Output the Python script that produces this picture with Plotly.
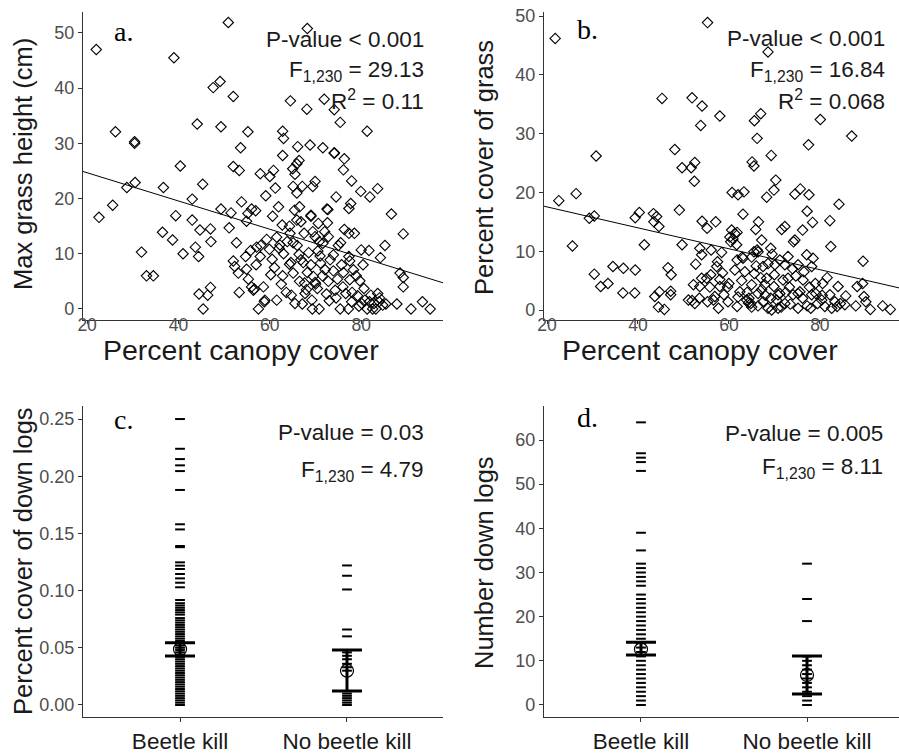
import plotly.graph_objects as go

# ---------------- data ----------------
a_x = [50.9,22.0,68.2,39.0,47.6,49.1,52.0,64.5,68.1,71.9,74.1,75.4,44.1,49.3,26.2,55.2,62.8,81.3,30.4,30.4,63.0,53.6,66.1,68.8,71.6,74.1,74.1,62.8,76.3,40.4,66.4,65.9,65.0,52.0,53.3,60.8,76.1,57.9,60.0,65.5,30.5,45.3,28.7,36.7,61.2,65.1,67.1,69.4,69.9,77.9,79.9,81.9,83.6,65.9,59.1,74.5,43.0,25.6,53.8,22.6,39.4,49.3,51.5,56.0,56.9,60.6,61.9,65.4,66.5,69.0,72.5,72.7,77.3,77.7,86.6,54.9,55.2,69.0,62.7,64.3,70.6,72.6,65.9,66.8,43.0,47.0,44.7,36.5,38.7,51.1,47.1,52.7,76.3,77.3,78.5,89.2,57.1,59.3,61.5,62.2,63.8,65.1,64.4,67.5,69.4,69.9,70.8,71.6,72.8,75.0,85.2,31.9,41.0,43.7,44.4,54.7,55.8,57.9,59.9,66.4,71.0,73.9,80.0,81.7,84.2,80.4,77.5,88.5,89.2,89.2,33.0,34.5,44.5,46.4,47.0,45.4,52.0,52.3,53.1,53.3,54.9,55.3,56.4,56.6,57.5,58.8,58.9,58.6,60.2,61.5,62.8,63.6,64.3,64.6,64.7,65.1,66.8,67.3,67.1,67.6,67.7,68.2,69.2,69.3,69.5,69.9,70.4,70.8,71.1,72.1,72.4,72.8,73.2,74.3,74.8,75.4,75.7,76.1,76.6,77.2,77.3,77.5,77.9,78.9,79.2,79.7,80.1,80.6,80.8,81.3,81.8,82.1,82.5,82.8,83.2,83.6,83.9,84.7,85.4,87.8,90.9,93.4,95.1,73.9,78.3,62.0,63.0,66.0,68.5,70.0,71.5,73.0,74.5,76.0,78.0,79.5,60.5,56.0,57.0,62.5,65.5,68.0,70.5,72.0,75.5,58.0,61.0,66.5,69.0,84.0]
a_y = [51.9,47.0,50.8,45.5,40.1,41.2,38.5,37.7,36.2,38.0,36.1,33.8,33.5,33.0,32.1,32.1,32.2,32.2,30.3,30.0,30.9,29.2,29.4,29.7,29.2,28.3,28.2,27.8,27.2,25.9,26.9,26.3,25.4,25.8,25.1,25.1,25.2,24.5,24.0,24.4,22.9,22.6,22.0,22.0,21.9,22.2,22.2,22.2,23.1,23.2,21.3,20.3,21.8,21.0,20.5,20.3,19.9,18.8,19.4,16.6,16.9,18.1,17.4,18.1,17.8,16.8,18.5,17.9,18.5,16.8,18.1,18.0,18.2,19.1,17.2,15.9,17.3,17.0,15.2,15.0,15.5,15.6,16.1,15.8,16.1,14.5,14.3,13.9,12.5,14.7,12.2,12.0,14.4,13.7,13.7,13.6,11.2,12.6,13.0,11.6,12.2,12.0,13.7,13.7,14.0,13.1,12.2,11.9,13.1,11.5,11.5,10.3,10.0,11.2,9.5,9.5,10.6,9.5,10.8,9.9,9.6,9.8,10.7,10.6,9.3,8.0,8.7,6.5,5.7,4.0,6.0,6.0,2.7,2.5,3.9,0.0,8.7,7.7,6.5,3.0,7.2,5.4,3.4,3.6,0.0,1.3,1.6,4.0,6.2,1.6,6.0,3.0,8.1,8.4,2.5,6.5,8.9,8.4,0.9,4.7,2.8,6.6,1.6,0.0,5.9,4.8,3.7,0.0,8.3,7.1,2.7,5.0,8.9,3.4,5.4,0.0,8.0,6.6,2.8,0.0,9.5,5.3,1.3,6.0,2.4,5.1,1.0,3.7,1.6,0.0,1.3,2.5,0.0,1.0,0.0,2.8,1.3,0.7,0.9,0.9,0.0,1.3,0.0,6.9,7.1,11.0,10.0,11.5,10.2,4.5,6.0,1.5,2.0,4.0,3.0,0.5,9.0,4.0,8.0,4.5,1.0,3.5,10.5,14.0,12.0,11.5,7.5,5.0,8.0,2.0]

b_x = [21.8,55.3,68.6,45.3,51.9,54.1,53.8,58.0,65.6,67.0,66.2,80.1,87.0,77.5,30.8,48.1,69.3,65.1,65.5,49.7,51.7,52.5,52.4,70.3,26.4,22.6,60.7,62.0,63.3,68.3,69.9,74.5,75.7,77.6,84.2,49.1,63.1,77.2,40.3,39.4,43.4,43.5,44.1,44.6,30.4,29.3,54.1,55.2,57.1,66.5,65.9,82.2,78.4,76.2,71.6,72.3,74.5,74.2,61.8,60.2,60.9,67.2,41.4,25.6,49.7,53.6,54.0,56.1,58.4,60.4,61.7,65.5,66.4,69.2,82.4,89.5,68.6,70.1,71.2,73.0,77.1,78.5,78.2,75.2,30.4,31.8,33.4,34.5,36.7,36.8,39.3,39.4,43.7,44.7,44.5,45.8,46.6,47.3,47.2,47.2,51.1,51.9,52.5,52.7,53.6,54.0,55.1,55.3,55.8,56.9,57.7,58.0,58.9,58.6,59.7,59.8,61.3,61.8,62.4,62.8,63.9,64.3,64.8,65.0,65.6,66.4,67.2,67.5,67.9,68.6,69.2,69.4,69.9,70.5,70.8,71.2,71.9,72.3,73.3,74.1,74.7,75.2,75.6,76.2,76.3,77.2,77.7,78.2,79.1,79.5,80.4,80.6,81.1,81.6,82.2,82.6,83.3,83.8,84.0,84.5,85.5,85.7,87.9,88.2,89.4,89.7,90.1,91.1,93.8,95.5,61.8,63.1,65.0,66.2,67.5,68.3,72.3,73.0,75.2,57.5,60.6,61.3,62.9,57.3,52.2,53.5,56.6,64.4,66.4,70.8,63.5,64.0,66.0,68.0,70.0,71.5,73.5,74.0,76.5,78.0,79.0,80.5,60.0,62.0,65.0,67.0,69.5,72.5,56.0,58.0]
b_y = [46.2,48.9,43.9,36.0,36.1,34.7,31.4,33.0,32.2,33.4,29.2,32.4,29.6,28.1,26.2,27.3,26.3,25.2,24.5,24.2,24.2,25.1,21.9,22.1,19.8,18.6,20.0,19.6,20.1,19.2,20.4,19.7,20.6,19.6,18.0,17.0,16.3,16.8,16.6,15.7,16.4,15.0,15.9,14.2,16.0,15.6,15.1,13.9,15.0,15.0,13.7,15.2,14.9,13.6,13.7,14.2,11.9,11.6,13.2,12.4,12.1,11.9,11.1,10.9,11.1,10.5,9.4,10.2,9.8,11.6,11.1,9.9,9.9,10.5,10.8,8.3,7.9,7.7,8.5,9.1,9.4,8.8,7.4,7.7,6.1,4.0,4.5,7.4,2.9,7.1,2.9,6.8,2.3,3.1,0.5,0.1,7.2,6.0,3.2,2.6,1.7,1.6,1.1,7.8,4.0,5.4,5.4,1.4,3.9,2.3,0.3,5.2,2.6,6.3,3.9,1.4,6.8,0.6,3.1,5.0,1.7,1.2,1.1,4.3,6.2,2.8,3.5,1.4,4.3,0.3,2.0,0.0,4.0,1.7,0.3,2.8,5.1,1.1,3.9,2.6,5.8,0.3,3.1,2.0,5.1,0.7,3.9,2.6,2.8,1.1,1.7,4.5,0.6,5.5,2.6,0.3,1.4,0.6,4.0,1.1,0.9,2.4,0.7,4.0,4.5,2.3,1.4,0.1,0.7,0.1,8.5,8.8,9.0,10.2,7.4,5.4,7.7,5.4,2.8,8.2,13.6,13.0,9.0,7.4,4.3,2.0,1.7,2.0,0.7,2.6,6.5,3.0,7.5,2.5,6.0,0.5,1.0,7.0,6.5,0.3,4.5,2.5,4.5,2.2,0.5,5.5,9.5,3.0,6.0,4.0]

# fitted regression lines (intercept, slope)
fit_a = (29.8, -0.256)
fit_b = (21.1, -0.178)

groups = ["Beetle kill", "No beetle kill"]
c_beetle = [0.250,0.224,0.215,0.2095,0.2045,0.188,0.158,0.1535,0.139,0.138,0.1247,0.1218,0.1189,0.1145,0.1107,0.1069,0.1029,0.0918,0.089,0.087,0.085,0.083,0.081,0.079,0.076,0.074,0.072,0.070,0.068,0.066,0.064,0.062,0.060,0.058,0.056,0.054,0.052,0.050,0.048,0.046,0.044,0.042,0.040,0.038,0.036,0.034,0.032,0.030,0.028,0.026,0.024,0.022,0.020,0.018,0.016,0.014,0.012,0.010,0.008,0.006,0.004,0.002,0.000]
c_nobeetle = [0.122,0.113,0.101,0.066,0.060,0.046,0.043,0.040,0.036,0.033,0.030,0.010,0.008,0.006,0.004,0.002,0.000]
c_mean = [0.0487, 0.030]
c_upper = [0.0545, 0.048]
c_lower = [0.0428, 0.0122]

d_beetle = [64,57,56,55,53,39,35,32,31,30,29,28,27,25,24,23,22,21,20,19,18,17,16,15,14,13,12,11,10,9,8,7,6,5,4,3,2,1,0]
d_nobeetle = [32,24,19,11,10,9,8,7,6,5,4,3,2,1,0]
d_mean = [12.6, 6.8]
d_upper = [14.2, 11.1]
d_lower = [11.3, 2.5]

# ---------------- layout helpers ----------------
W, H = 899, 753
def fx(px): return px / W
def fy(py): return 1 - py / H

SANS = "Liberation Sans, Arial, sans-serif"
SERIF = "Liberation Serif, Times New Roman, serif"
TXT = "#1a1a1a"
TICK = "#4d4d4d"

fig = go.Figure()

scatter_marker = dict(symbol="diamond-open", size=8, color="black", line=dict(width=1.1))

# panel a
fig.add_trace(go.Scatter(x=a_x, y=a_y, mode="markers", marker=scatter_marker,
                         xaxis="x", yaxis="y", showlegend=False, hoverinfo="skip"))
xr_a = [19.1, 97.9]
fig.add_trace(go.Scatter(x=xr_a, y=[fit_a[0] + fit_a[1] * v for v in xr_a], mode="lines",
                         line=dict(color="black", width=1), xaxis="x", yaxis="y",
                         showlegend=False, hoverinfo="skip"))
# panel b
fig.add_trace(go.Scatter(x=b_x, y=b_y, mode="markers", marker=scatter_marker,
                         xaxis="x2", yaxis="y2", showlegend=False, hoverinfo="skip"))
xr_b = [19.34, 97.4]
fig.add_trace(go.Scatter(x=xr_b, y=[fit_b[0] + fit_b[1] * v for v in xr_b], mode="lines",
                         line=dict(color="black", width=1), xaxis="x2", yaxis="y2",
                         showlegend=False, hoverinfo="skip"))

dash_marker = dict(symbol="line-ew-open", size=7, color="black", line=dict(width=2, color="black"))

def group_panel(xa, ya, beetle, nobeetle, mean, upper, lower):
    fig.add_trace(go.Scatter(x=[groups[0]] * len(beetle), y=beetle, mode="markers",
                             marker=dash_marker, xaxis=xa, yaxis=ya, showlegend=False, hoverinfo="skip"))
    fig.add_trace(go.Scatter(x=[groups[1]] * len(nobeetle), y=nobeetle, mode="markers",
                             marker=dash_marker, xaxis=xa, yaxis=ya, showlegend=False, hoverinfo="skip"))
    fig.add_trace(go.Scatter(
        x=groups, y=mean, mode="markers",
        marker=dict(symbol="circle-open", size=13, color="black", line=dict(width=1.2)),
        error_y=dict(type="data", symmetric=False,
                     array=[u - m for u, m in zip(upper, mean)],
                     arrayminus=[m - l for m, l in zip(mean, lower)],
                     color="black", thickness=3, width=15),
        xaxis=xa, yaxis=ya, showlegend=False, hoverinfo="skip"))

group_panel("x3", "y3", c_beetle, c_nobeetle, c_mean, c_upper, c_lower)
group_panel("x4", "y4", d_beetle, d_nobeetle, d_mean, d_upper, d_lower)

axis_common = dict(showline=True, linecolor="#333333", linewidth=1.3, ticks="outside",
                   ticklen=4, tickwidth=1.2, tickcolor="#333333", showgrid=False, zeroline=False,
                   automargin=False,
                   tickfont=dict(family=SANS, size=18, color=TICK))

top_dom = [fy(320), fy(12)]
bot_dom = [fy(717), fy(406)]
left_dom = [fx(83), fx(443)]
right_dom = [fx(544), 1.0]

xtick_top = dict(tickvals=[20, 40, 60, 80], ticklen=3, ticklabelstandoff=-14,
                 tickfont=dict(family=SANS, size=17.5, color=TICK))

fig.update_layout(
    template="none",
    width=W, height=H, margin=dict(l=0, r=0, t=0, b=0, pad=0, autoexpand=False),
    paper_bgcolor="white", plot_bgcolor="white", showlegend=False,
    xaxis=dict(axis_common, domain=left_dom, anchor="y", range=xr_a, **xtick_top),
    yaxis=dict(axis_common, domain=top_dom, anchor="x", range=[-2.0, 53.8], tickvals=[0, 10, 20, 30, 40, 50]),
    xaxis2=dict(axis_common, domain=right_dom, anchor="y2", range=xr_b, **xtick_top),
    yaxis2=dict(axis_common, domain=top_dom, anchor="x2", range=[-1.7, 50.7], tickvals=[0, 10, 20, 30, 40, 50]),
    xaxis3=dict(axis_common, domain=left_dom, anchor="y3", type="category", categoryorder="array",
                categoryarray=groups, range=[-0.581, 1.575],
                tickfont=dict(family=SANS, size=22.5, color=TXT)),
    yaxis3=dict(axis_common, domain=bot_dom, anchor="x3", range=[-0.0105, 0.2614],
                tickvals=[0, 0.05, 0.10, 0.15, 0.20, 0.25], tickformat=".2f"),
    xaxis4=dict(axis_common, domain=right_dom, anchor="y4", type="category", categoryorder="array",
                categoryarray=groups, range=[-0.584, 1.554],
                tickfont=dict(family=SANS, size=22.5, color=TXT)),
    yaxis4=dict(axis_common, domain=bot_dom, anchor="x4", range=[-2.72, 67.7],
                tickvals=[0, 10, 20, 30, 40, 50, 60]),
)

ann = []
def text(px, py, s, size, xanchor="center", angle=0, family=SANS, color=TXT):
    ann.append(dict(x=fx(px), y=fy(py), xref="paper", yref="paper", text=s, showarrow=False,
                    xanchor=xanchor, yanchor="middle", textangle=angle,
                    font=dict(family=family, size=size, color=color)))

# axis titles
text(241, 350, "Percent canopy cover", 28.5)
text(700, 350, "Percent canopy cover", 28.5)
text(23, 164, "Max grass height (cm)", 25.5, angle=-90)
text(484, 167, "Percent cover of grass", 25.5, angle=-90)
text(23, 561, "Percent cover of down logs", 25.5, angle=-90)
text(484, 562, "Number down logs", 25.5, angle=-90)

# panel letters
text(112, 32, "a.", 28, xanchor="left", family=SERIF, color="black")
text(575, 30, "b.", 28, xanchor="left", family=SERIF, color="black")
text(112, 420, "c.", 28, xanchor="left", family=SERIF, color="black")
text(575, 418, "d.", 28, xanchor="left", family=SERIF, color="black")

# statistics
ST = 22.5
text(426, 40, "P-value < 0.001", ST, xanchor="right")
text(426, 71, "F<sub>1,230</sub> = 29.13", ST, xanchor="right")
text(426, 100, "R<sup>2</sup> = 0.11", ST, xanchor="right")
text(887, 39, "P-value < 0.001", ST, xanchor="right")
text(887, 71, "F<sub>1,230</sub> = 16.84", ST, xanchor="right")
text(887, 100, "R<sup>2</sup> = 0.068", ST, xanchor="right")
text(426, 432, "P-value = 0.03", ST, xanchor="right")
text(426, 471, "F<sub>1,230</sub> = 4.79", ST, xanchor="right")
text(885, 433, "P-value = 0.005", ST, xanchor="right")
text(885, 468, "F<sub>1,230</sub> = 8.11", ST, xanchor="right")

fig.update_layout(annotations=ann)
fig.write_html("out.html", config={"displayModeBar": False},
               post_script="document.body.style.margin='0';document.body.style.overflow='hidden';")
